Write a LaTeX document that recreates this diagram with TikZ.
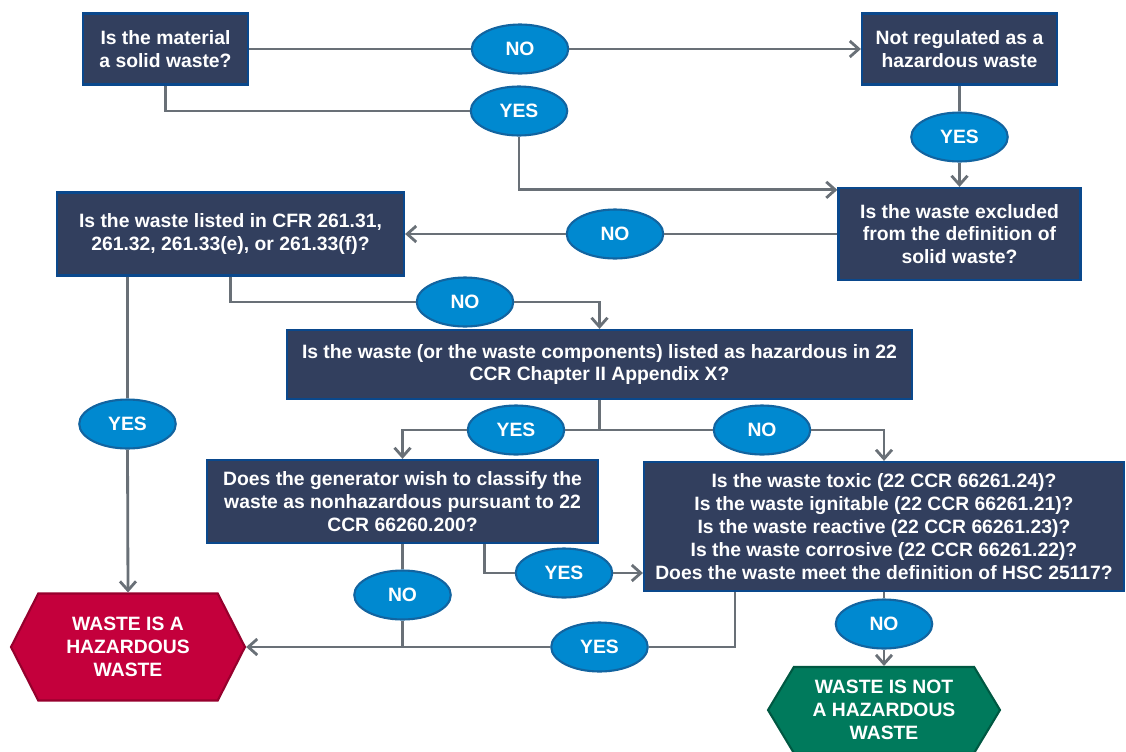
\documentclass[tikz,border=0pt]{standalone}
\usepackage{fontspec}
\setmainfont{Liberation Sans}
\usepackage{tikz}
\usetikzlibrary{shapes.symbols, shapes.geometric, arrows.meta}
\definecolor{qNavy}{RGB}{ 50, 63, 94}
\definecolor{qEdge}{RGB}{ 10, 72,140}
\definecolor{ynFill}{RGB}{  0,137,208}
\definecolor{ynEdge}{RGB}{ 18,100,160}
\definecolor{lnGray}{RGB}{105,112,119}
\definecolor{hzRed}{RGB}{196,  0, 60}
\definecolor{hzRedD}{RGB}{150,  0, 45}
\definecolor{okGreen}{RGB}{  0,122, 92}
\definecolor{okGreenD}{RGB}{  0, 88, 66}

\begin{document}
\begin{tikzpicture}[
    x=0.02cm, y=-0.02cm,
    font=\fontsize{11}{13}\selectfont\bfseries,
    qbox/.style={rectangle, fill=qNavy, draw=qEdge, line width=1.3pt, text=white,
                 align=center, inner sep=0pt},
    yn/.style={ellipse, fill=ynFill, draw=ynEdge, line width=1.2pt, text=white,
               minimum width=1.93cm, minimum height=0.98cm, inner sep=0pt},
    endhex/.style={signal, signal to=east and west, text=white, align=center,
                   line width=1.2pt, inner sep=0pt},
    link/.style={draw=lnGray, line width=1.6pt},
    arr/.style={link, -{Straight Barb[length=1.8mm, width=3.2mm]}}
  ]
  \useasboundingbox (0,0) rectangle (1126,751);

  % questions
  \node[qbox, minimum width=3.3cm, minimum height=1.42cm] (solid) at (165.5,49)
       {Is the material\\ a solid waste?};
  \node[qbox, minimum width=3.9cm, minimum height=1.42cm] (notreg) at (959.5,49)
       {Not regulated as a\\ hazardous waste};
  \node[qbox, minimum width=4.84cm, minimum height=1.84cm] (excl) at (959.5,234)
       {Is the waste excluded\\ from the definition of\\ solid waste?};
  \node[qbox, minimum width=6.94cm, minimum height=1.66cm] (cfr) at (230.5,234)
       {Is the waste listed in CFR 261.31,\\ 261.32, 261.33(e), or 261.33(f)?};
  \node[qbox, minimum width=12.5cm, minimum height=1.38cm] (appx) at (599.5,364.5)
       {Is the waste (or the waste components) listed as hazardous in 22\\ CCR Chapter II Appendix X?};
  \node[qbox, minimum width=7.82cm, minimum height=1.66cm] (gen) at (402.5,501.5)
       {Does the generator wish to classify the\\ waste as nonhazardous pursuant to 22\\ CCR 66260.200?};
  \node[qbox, minimum width=9.6cm, minimum height=2.58cm] (tox) at (884,526.5)
       {Is the waste toxic (22 CCR 66261.24)?\\ Is the waste ignitable (22 CCR 66261.21)?\\
        Is the waste reactive (22 CCR 66261.23)?\\ Is the waste corrosive (22 CCR 66261.22)?\\
        Does the waste meet the definition of HSC 25117?};

  % answers
  \node[yn] (no1) at (520,49) {NO};
  \node[yn] (yes1) at (519,111) {YES};
  \node[yn] (yes2) at (959.5,137) {YES};
  \node[yn] (no2) at (615,234) {NO};
  \node[yn] (yes3) at (127.5,424) {YES};
  \node[yn] (no3) at (465,302) {NO};
  \node[yn] (yes4) at (516,430) {YES};
  \node[yn] (no4) at (762,430) {NO};
  \node[yn] (yes5) at (564,573) {YES};
  \node[yn] (no5) at (402.5,595) {NO};
  \node[yn] (yes6) at (599.5,647) {YES};
  \node[yn] (no6) at (884,624) {NO};

  % outcomes
  \node[endhex, fill=hzRed, draw=hzRedD, signal pointer angle=126,
        minimum width=4.68cm, minimum height=2.14cm] (haz) at (128,647)
       {WASTE IS A\\ HAZARDOUS\\ WASTE};
  \node[endhex, fill=okGreen, draw=okGreenD, signal pointer angle=118,
        minimum width=4.64cm, minimum height=1.72cm] (nothaz) at (884,710)
       {WASTE IS NOT\\ A HAZARDOUS\\ WASTE};

  % connectors
  \draw[link] (solid.east) -- (no1.west);
  \draw[arr] (no1.east) -- (notreg.west);
  \draw[link] (solid.south) |- (yes1.west);
  \draw[arr] (yes1.south) |- ([yshift=-0.6mm]excl.north west);
  \draw[link] (notreg.south) -- (yes2.north);
  \draw[arr] (yes2.south) -- (excl.north);
  \draw[link] (excl.west) -- (no2.east);
  \draw[arr] (no2.west) -- (cfr.east);
  \draw[link] (cfr.south -| yes3.north) -- (yes3.north);
  \draw[arr] (yes3.south) -- (haz.north);
  \draw[link] (cfr.south) |- (no3.west);
  \draw[arr] (no3.east) -| (appx.north);
  \coordinate (split) at (appx.south |- yes4);
  \draw[link] (appx.south) -- (split);
  \draw[link] (split) -- (yes4.east);
  \draw[arr] (yes4.west) -| (gen.north);
  \draw[link] (split) -- (no4.west);
  \draw[arr] (no4.east) -| (tox.north);
  \draw[link] ([xshift=1.64cm]gen.south) |- (yes5.west);
  \draw[arr] (yes5.east) -- (yes5.east -| tox.west);
  \draw[link] (gen.south) -- (no5.north);
  \draw[arr] (no5.south) |- (haz.east);
  \draw[link] ([xshift=-2.98cm]tox.south) |- (yes6.east);
  \draw[link] (yes6.west) -- (yes6.west -| no5.south);
  \draw[link] (tox.south) -- (no6.north);
  \draw[arr] (no6.south) -- (nothaz.north);
\end{tikzpicture}
\end{document}
